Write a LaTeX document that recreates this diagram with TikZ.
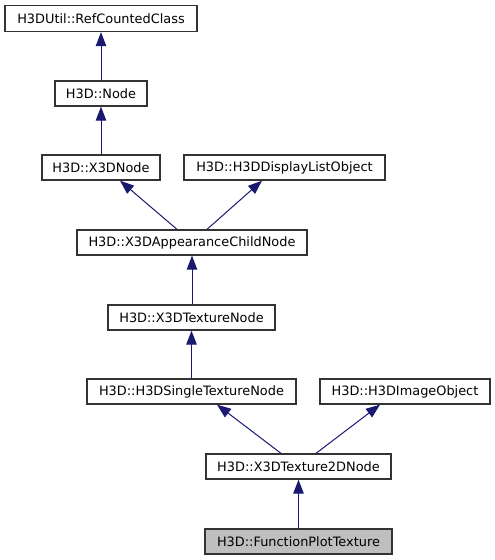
\documentclass[tikz,border=0pt]{standalone}
\usepackage{fontspec}
\setmainfont{DejaVu Sans}
\usetikzlibrary{arrows.meta,calc}
\definecolor{edgecol}{HTML}{191970}
\definecolor{boxcol}{HTML}{333333}
\tikzset{
  cls/.style={draw=boxcol, line width=1.3pt, fill=white, inner sep=0pt, minimum height=25pt, font=\fontsize{12.9}{14}\selectfont, text=black},
  cur/.style={cls, fill=black!25},
  inh/.style={draw=edgecol, line width=1pt, -{Triangle[length=14pt,width=10.5pt]}},
}
\begin{document}
\begin{tikzpicture}[x=1pt,y=-1pt]
\useasboundingbox (0,0) rectangle (495,560);
\node[cls, minimum width=192pt, minimum height=26pt] (rc) at (101,18.5) {H3DUtil::RefCountedClass};
\node[cls, minimum width=92pt] (node) at (101,93.5) {H3D::Node};
\node[cls, minimum width=118pt] (x3d) at (101,167.5) {H3D::X3DNode};
\node[cls, minimum width=201pt] (dlo) at (284.5,167.5) {H3D::H3DDisplayListObject};
\node[cls, minimum width=230pt] (app) at (192,242.5) {H3D::X3DAppearanceChildNode};
\node[cls, minimum width=167pt] (tex) at (191.5,317.5) {H3D::X3DTextureNode};
\node[cls, minimum width=209pt] (single) at (191.5,391.5) {H3D::H3DSingleTextureNode};
\node[cls, minimum width=170pt] (img) at (405,391.5) {H3D::H3DImageObject};
\node[cls, minimum width=185pt] (t2d) at (298.5,466.5) {H3D::X3DTexture2DNode};
\node[cur, minimum width=187pt] (fpt) at (298.5,541.5) {H3D::FunctionPlotTexture};

\draw[inh] (node.north) -- (rc.south);
\draw[inh] (x3d.north) -- (node.south);
\draw[inh] ([xshift=-15pt]app.north) -- ([xshift=19pt]x3d.south);
\draw[inh] ([xshift=15pt]app.north) -- ([xshift=-22.5pt]dlo.south);
\draw[inh] ([xshift=0.5pt]tex.north) -- (app.south);
\draw[inh] (single.north) -- (tex.south);
\draw[inh] ([xshift=-17.5pt]t2d.north) -- ([xshift=25.5pt]single.south);
\draw[inh] ([xshift=17.5pt]t2d.north) -- ([xshift=-25pt]img.south);
\draw[inh] (fpt.north) -- (t2d.south);
\end{tikzpicture}
\end{document}
